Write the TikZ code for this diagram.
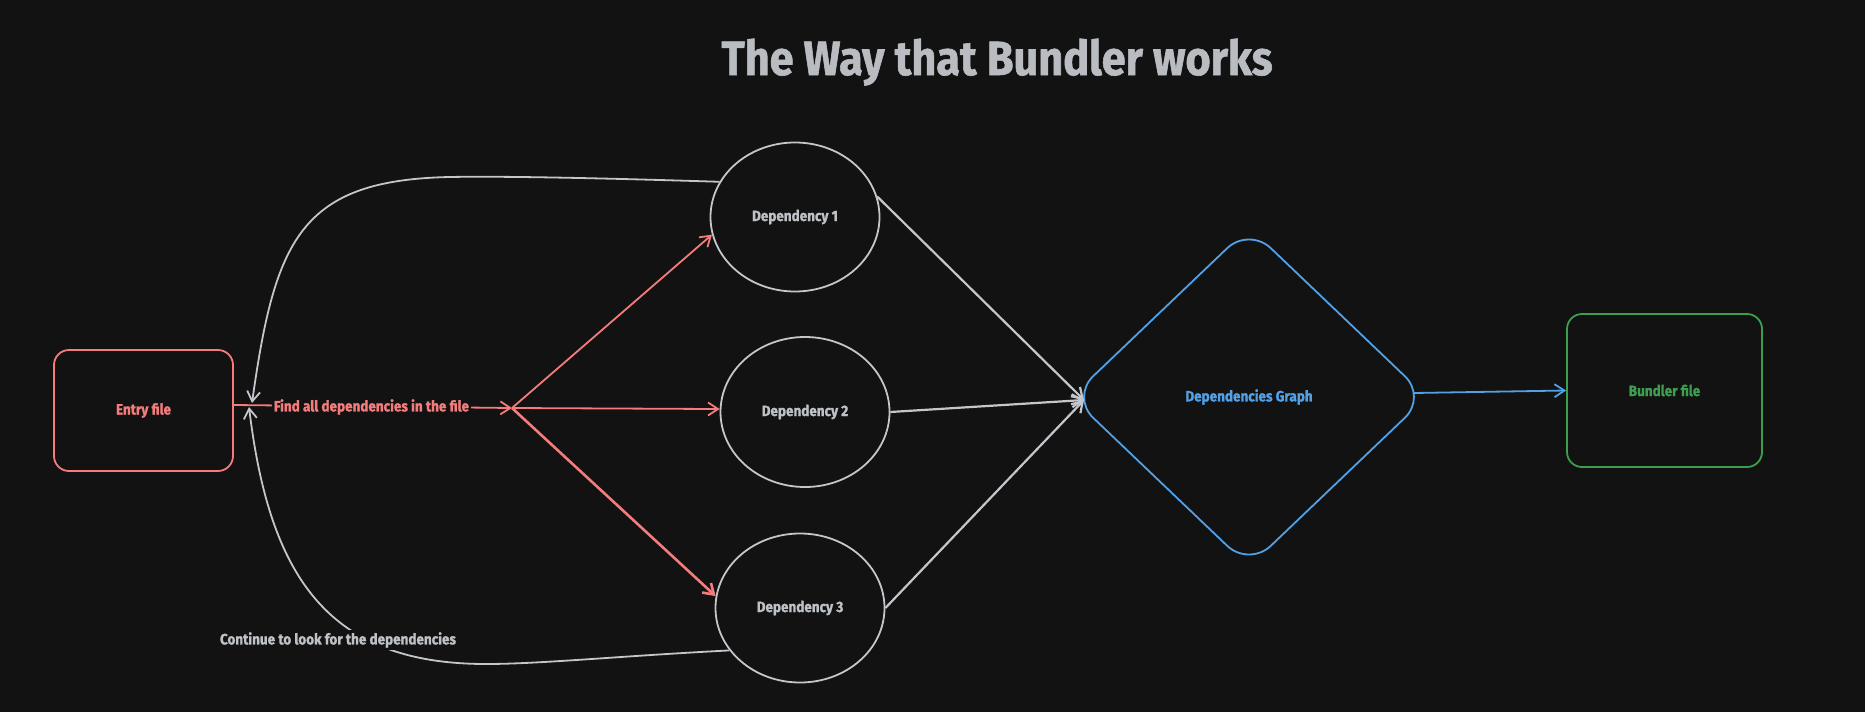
\documentclass[tikz,border=0pt]{standalone}
\usepackage{fontspec}
\setmainfont{Fira Sans}[FakeStretch=0.9, BoldFeatures={FakeBold=1.2}]
\usetikzlibrary{shapes.geometric,arrows.meta}
\definecolor{bgc}{HTML}{121212}
\definecolor{redc}{HTML}{F47C7C}
\definecolor{grayc}{HTML}{C3C6CA}
\definecolor{graytext}{HTML}{BEC2C6}
\definecolor{bluec}{HTML}{52A0E6}
\definecolor{greenc}{HTML}{3C9E4E}
\definecolor{titlec}{HTML}{B9BDC1}
\tikzset{
  lbl/.style={font=\fontsize{15}{18}\selectfont\bfseries, inner sep=2pt},
  boxnode/.style={draw, rectangle, rounded corners=15pt, line width=1.8pt, fill=bgc, inner sep=0pt},
  depnode/.style={draw=grayc, ellipse, line width=1.8pt, fill=bgc, inner sep=0pt,
     minimum width=169pt, minimum height=149pt, text=graytext, lbl},
  tipb/.style={-{Straight Barb[length=10pt,width=13pt]}},
  redarrow/.style={draw=redc, line width=1.8pt, tipb},
  grayarrow/.style={draw=grayc, line width=2.2pt, tipb},
  bluearrow/.style={draw=bluec, line width=1.8pt, tipb},
}
\begin{document}
\begin{tikzpicture}[x=1pt,y=-1pt]
\fill[bgc] (0,0) rectangle (1865,712);
\useasboundingbox (0,0) rectangle (1865,712);

% title
\node[anchor=base, text=titlec, font=\fontsize{48}{56}\selectfont\bfseries, inner sep=0pt] (title) at (997,75) {The Way that Bundler works};

% main nodes
\node[boxnode, draw=redc, minimum width=179pt, minimum height=121pt, text=redc, lbl] (entry) at (143.5,410.5) {Entry file};
\node[depnode] (dep1) at (795,217) {Dependency 1};
\node[depnode, minimum height=150pt] (dep2) at (805,412) {Dependency 2};
\node[depnode] (dep3) at (800,608) {Dependency 3};
\node[draw=bluec, diamond, rounded corners=30pt, line width=1.8pt, inner sep=0pt,
      minimum width=356pt, minimum height=340pt, text=bluec, lbl] (graph) at (1249,397) {Dependencies Graph};
\node[boxnode, draw=greenc, minimum width=195pt, minimum height=153pt, text=greenc, lbl] (bundler) at (1664.5,390.5) {Bundler file};

% helper coordinates
\coordinate (hub) at (512,408);
\coordinate (gin) at (1084,400);
\coordinate (gout) at (1414,393);
\coordinate (tiptop) at (252,403);
\coordinate (tipbot) at (249,407);

% loop arrows (gray)
\draw[grayarrow, line width=1.8pt] (dep1.155) .. controls (600,178) and (500,176) .. (450,177)
   .. controls (300,180) and (275,240) .. (tiptop);
\draw[grayarrow, line width=1.8pt] (dep3.211) .. controls (620,656) and (540,664) .. (486,664)
   .. controls (330,664) and (270,580) .. (tipbot);

% red arrows
\draw[redarrow] (entry.east |- 0,405) -- (hub);
\node[lbl, text=redc, fill=bgc] (findlbl) at (371.5,407) {Find all dependencies in the file};
\draw[redarrow] (hub) -- (dep1.192);
\draw[redarrow] (hub) -- (dep2.178);
\draw[redarrow, line width=2.6pt] (hub) -- (dep3.172);

% gray arrows to graph
\draw[grayarrow] (dep1.14) -- (gin);
\draw[grayarrow] (dep2.east) -- (gin);
\draw[grayarrow] (dep3.east) -- (gin);

% blue arrow
\draw[bluearrow] (gout) -- (bundler.west);

% loop label
\node[lbl, text=graytext, fill=bgc] (contlbl) at (338,640) {Continue to look for the dependencies};
\end{tikzpicture}
\end{document}
